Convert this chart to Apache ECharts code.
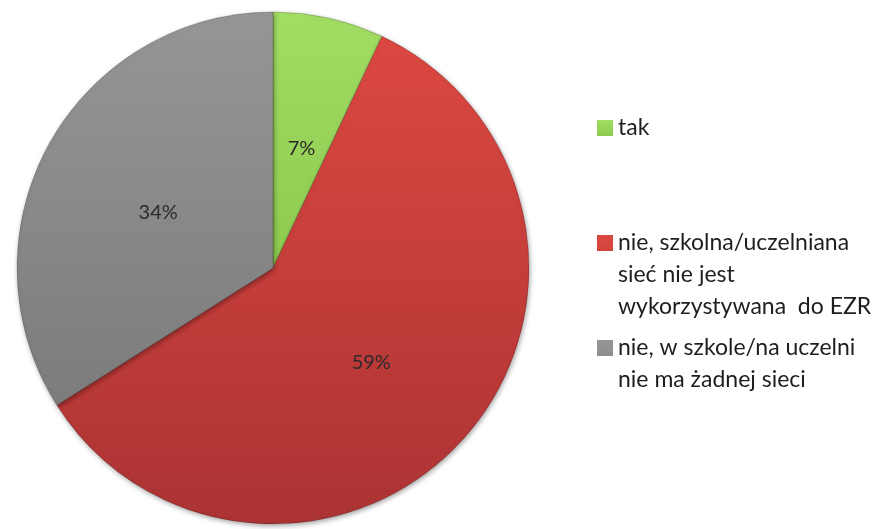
<!DOCTYPE html>
<html>
<head>
<meta charset="utf-8">
<script src="https://cdn.jsdelivr.net/npm/echarts@6/dist/echarts.min.js"></script>
<style>
  html, body { margin: 0; padding: 0; background: #fff; }
  #chart { width: 879px; height: 529px; }
</style>
</head>
<body>
<div id="chart"></div>
<script>
// dane wykresu
const categories = [
  'tak',
  'nie, szkolna/uczelniana\nsieć nie jest\nwykorzystywana  do EZR',
  'nie, w szkole/na uczelni\nnie ma żadnej sieci'
];
const values = [7, 59, 34];
const colorsTop = ['#a2dd64', '#dc4841', '#969696'];
const colorsBottom = ['#8dca4e', '#ab3333', '#7c7c7c'];

const chart = echarts.init(document.getElementById('chart'));

function grad(i) {
  return new echarts.graphic.LinearGradient(0, 0, 0, 1, [
    { offset: 0, color: colorsTop[i] },
    { offset: 1, color: colorsBottom[i] }
  ]);
}

// osobna legenda dla kazdej pozycji (nierowne odstepy jak w oryginale)
// ikona wyrownana do pierwszej linii tekstu: wysoki prostokat z kwadratem u gory
const legendTops = [112, 227, 332];
const lineH = 32;
const legends = categories.map((name, i) => {
  const lines = name.split('\n').length;
  const h = 16 + (lines - 1) * lineH;
  return {
    data: [name],
    left: 597,
    top: legendTops[i],
    padding: 0,
    selectedMode: false,
    itemWidth: 16,
    itemHeight: h,
    icon: 'path://M0,0L16,0L16,16L0,16Z M0,' + h + 'L16,' + h,
    itemStyle: { borderWidth: 0 },
    textStyle: {
      fontFamily: 'Lato',
      fontSize: 23,
      color: '#1e1e1e',
      lineHeight: lineH
    }
  };
});

const option = {
  animation: false,
  backgroundColor: '#fff',
  legend: legends,
  series: [{
    type: 'pie',
    center: [273, 268],
    radius: 256,
    startAngle: 90,
    clockwise: true,
    data: categories.map((name, i) => ({
      name: name,
      value: values[i],
      itemStyle: { color: grad(i) }
    })),
    itemStyle: {
      borderColor: 'rgba(0,0,0,0.18)',
      borderWidth: 1,
      shadowBlur: 5,
      shadowColor: 'rgba(0,0,0,0.35)',
      shadowOffsetX: 1,
      shadowOffsetY: 2
    },
    label: {
      show: true,
      position: 'inside',
      formatter: '{d}%',
      fontFamily: 'Lato',
      fontSize: 20,
      color: '#2a2a2a'
    },
    labelLayout: { dy: 8 },
    labelLine: { show: false },
    emphasis: { disabled: true }
  }]
};

chart.setOption(option);
</script>
</body>
</html>
